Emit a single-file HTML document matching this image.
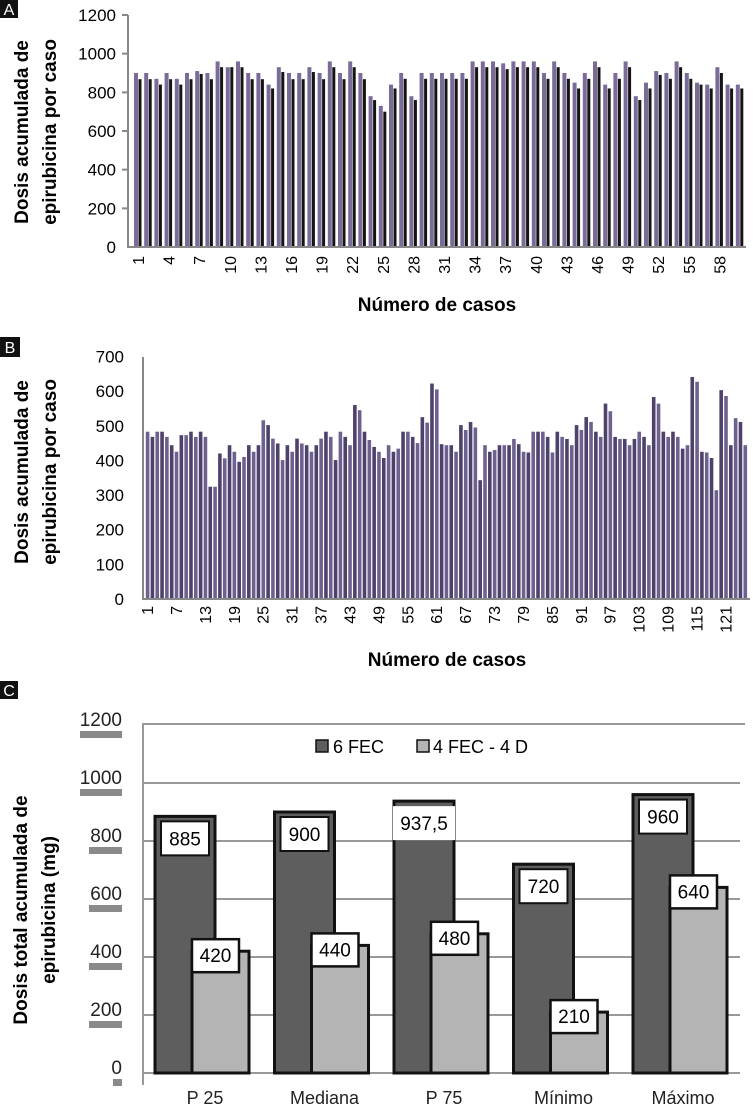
<!DOCTYPE html>
<html><head><meta charset="utf-8"><style>
body{margin:0;background:#fff;}
svg{display:block;font-family:"Liberation Sans",sans-serif;}
</style></head><body>
<svg id="fig" width="753" height="1111" viewBox="0 0 753 1111" xmlns="http://www.w3.org/2000/svg">
<g id="pa">
<rect x="0" y="0" width="18" height="18" fill="#111"/>
<text x="9" y="15" fill="#fff" font-size="16" text-anchor="middle">A</text>
<text transform="translate(28,132) rotate(-90)" font-size="19" font-weight="bold" text-anchor="middle">Dosis acumulada de</text>
<text transform="translate(56,132) rotate(-90)" font-size="19" font-weight="bold" text-anchor="middle">epirubicina por caso</text>
<text x="437" y="311" font-size="19" font-weight="bold" text-anchor="middle">Número de casos</text>
</g>
<g id="pb">
<rect x="0" y="337" width="20" height="20" fill="#111"/>
<text x="10" y="353" fill="#fff" font-size="16" text-anchor="middle">B</text>
<text transform="translate(28,472) rotate(-90)" font-size="19" font-weight="bold" text-anchor="middle">Dosis acumulada de</text>
<text transform="translate(56,472) rotate(-90)" font-size="19" font-weight="bold" text-anchor="middle">epirubicina por caso</text>
<text x="447" y="666" font-size="19" font-weight="bold" text-anchor="middle">Número de casos</text>
</g>
<g id="pc">
<rect x="0" y="681" width="18" height="18" fill="#111"/>
<text x="9" y="696" fill="#fff" font-size="16" text-anchor="middle">C</text>
<text transform="translate(27,910) rotate(-90)" font-size="19" font-weight="bold" text-anchor="middle">Dosis total acumulada de</text>
<text transform="translate(55,910) rotate(-90)" font-size="19" font-weight="bold" text-anchor="middle">epirubicina (mg)</text>
</g>
</svg>
<script>
var NS='http://www.w3.org/2000/svg';
// Panel A data
var casesA=60;
var aTicks=[0,200,400,600,800,1000,1200];
var aPurple=[900,900,870,900,870,900,910,900,960,930,960,900,900,840,930,900,900,930,900,960,900,960,900,780,730,840,900,780,900,900,900,900,900,960,960,960,950,960,960,960,900,960,900,850,900,960,840,900,960,780,850,910,900,960,900,850,840,930,840,840];
var aBlack=[868,868,840,868,840,868,895,868,930,930,930,868,868,820,905,868,868,905,868,930,868,930,868,760,700,820,870,760,870,870,870,870,870,930,930,930,920,930,930,930,870,930,870,820,870,930,820,870,930,760,820,890,870,930,870,840,820,900,820,820];
// Panel B data
var bTicks=[0,100,200,300,400,500,600,700];
var bVals=[483,468,483,483,468,444,425,473,473,483,468,483,468,324,324,420,406,444,425,396,410,444,425,444,516,502,463,449,401,444,425,463,449,444,425,444,463,483,468,401,483,468,444,560,545,483,
459,439,425,407,444,425,434,483,483,468,450,525,509,622,605,447,444,444,425,502,488,511,495,343,444,425,430,444,444,444,462,447,425,423,483,483,483,468,423,483,468,462,444,502,488,525,511,483,468,564,542,468,462,462,444,462,483,468,444,583,564,483,468,483,468,434,444,641,627,425,423,407,314,603,586,444,522,511,444];
// Panel C data
var cCats=['P 25','Mediana','P 75','Mínimo','Máximo'];
var c6FEC=[885,900,937.5,720,960];
var c4FEC=[420,440,480,210,640];
var cLabels6=['885','900','937,5','720','960'];
var cLabels4=['420','440','480','210','640'];
var cTicks=[0,200,400,600,800,1000,1200];

function mk(tag,attrs,parent){var e=document.createElementNS(NS,tag);for(var k in attrs)e.setAttribute(k,attrs[k]);parent.appendChild(e);return e;}
var pa=document.getElementById('pa'),pb=document.getElementById('pb'),pc=document.getElementById('pc');

// ---- Panel A
function yA(v){return 247-v*(232/1200);}
function xA(i){return 139+i*10.2;}
aTicks.forEach(function(t){
  var tx=mk('text',{x:116,y:yA(t)+6,'font-size':17,'text-anchor':'end'},pa);tx.textContent=t;
  
  
});
for(var i=0;i<casesA;i++){
  var r=mk('rect',{x:xA(i)-5,y:yA(aPurple[i]),width:4,height:yA(0)-yA(aPurple[i]),fill:'#7a6b98'},pa);
  
  
  var r2=mk('rect',{x:xA(i)-0.5,y:yA(aBlack[i]),width:3,height:yA(0)-yA(aBlack[i]),fill:'#151515'},pa);
  
  
  if(i%3==0){
    var lb=mk('text',{transform:'translate('+(xA(i)+5)+',256) rotate(-90)','font-size':16,'text-anchor':'end'},pa);lb.textContent=i+1;
    
    
  }
}
var axA=mk('path',{d:'M128,15V247H746M122,15H128M122,'+yA(200)+'H128M122,'+yA(400)+'H128M122,'+yA(600)+'H128M122,'+yA(800)+'H128M122,'+yA(1000)+'H128',stroke:'#888',fill:'none','stroke-width':2},pa);



// ---- Panel B
function yB(v){return 599-v*(242.5/700);}
function xB(i){return 148+i*4.82;}
bTicks.forEach(function(t){
  var tx=mk('text',{x:124,y:yB(t)+6,'font-size':17,'text-anchor':'end'},pb);tx.textContent=t;
  
  
});
for(var j=0;j<bVals.length;j++){
  var rb=mk('rect',{x:xB(j)-2.2,y:yB(bVals[j]),width:3.6,height:yB(0)-yB(bVals[j]),fill:(j%2?'#4e416c':'#6e6190')},pb);
  
  
  if(j%6==0){
    var lb2=mk('text',{transform:'translate('+(xB(j)+5)+',606) rotate(-90)','font-size':16,'text-anchor':'end'},pb);lb2.textContent=j+1;
    
    
  }
}
var axB=mk('path',{d:'M143,357V599H750',stroke:'#888',fill:'none','stroke-width':2},pb);



// ---- Panel C
function yC(v){return 1073-v*0.29;}
function xC(i){return 143+i*119.5;}
cTicks.forEach(function(t){
  if(t>0&&t<1200){
    var g=mk('line',{x1:143,x2:740,y1:yC(t),y2:yC(t),stroke:'#999','stroke-width':2},pc);
    
    
  }
  var tx=mk('text',{x:122,y:yC(t)+1,'font-size':19,'text-anchor':'end',fill:'#222'},pc);tx.textContent=t;
  
  
  var d=mk('rect',{x:(t==0?113:(t>=1000?80:89)),y:yC(t)+6,width:(t==0?9:(t>=1000?42:33)),height:7,fill:'#8a8a8a'},pc);
  
  
});
var box=mk('path',{d:'M143,1085V724H745M143,1073H740',stroke:'#999',fill:'none','stroke-width':2},pc);


for(var k=0;k<cCats.length;k++){
  var x0=xC(k);
  var d6=mk('rect',{x:x0+12,y:yC(c6FEC[k]),width:60,height:yC(0)-yC(c6FEC[k]),fill:'#5e5e5e',stroke:'#111','stroke-width':3},pc);
  
  
  var d4=mk('rect',{x:x0+49,y:yC(c4FEC[k]),width:57,height:yC(0)-yC(c4FEC[k]),fill:'#b4b4b4',stroke:'#111','stroke-width':3},pc);
  
  
  var special=(cLabels6[k].length>3);
  var bw=special?62:48;
  var b6=mk('rect',{x:x0+42-bw/2,y:yC(c6FEC[k])+5,width:bw,height:34,fill:'#fff',stroke:special?'none':'#111','stroke-width':2},pc);
  
  
  var t6=mk('text',{x:x0+42,y:yC(c6FEC[k])+29,'font-size':19,'text-anchor':'middle'},pc);t6.textContent=cLabels6[k];
  
  
  var b4=mk('rect',{x:x0+49,y:yC(c4FEC[k])-12,width:47,height:33,fill:'#fff',stroke:'#111','stroke-width':2.5},pc);
  
  
  var t4=mk('text',{x:x0+72.5,y:yC(c4FEC[k])+11,'font-size':19,'text-anchor':'middle'},pc);t4.textContent=cLabels4[k];
  
  
  var cl=mk('text',{x:x0+62,y:1104,'font-size':18,'text-anchor':'middle',fill:'#222'},pc);cl.textContent=cCats[k];
  
  
}
var ls1=mk('rect',{x:316,y:740,width:12,height:12,fill:'#5e5e5e',stroke:'#111','stroke-width':1.5},pc);


var lt1=mk('text',{x:333,y:753,'font-size':18},pc);lt1.textContent='6 FEC';


var ls2=mk('rect',{x:417,y:740,width:12,height:12,fill:'#b4b4b4',stroke:'#111','stroke-width':1.5},pc);


var lt2=mk('text',{x:433,y:753,'font-size':18},pc);lt2.textContent='4 FEC - 4 D';


</script>
</body></html>
